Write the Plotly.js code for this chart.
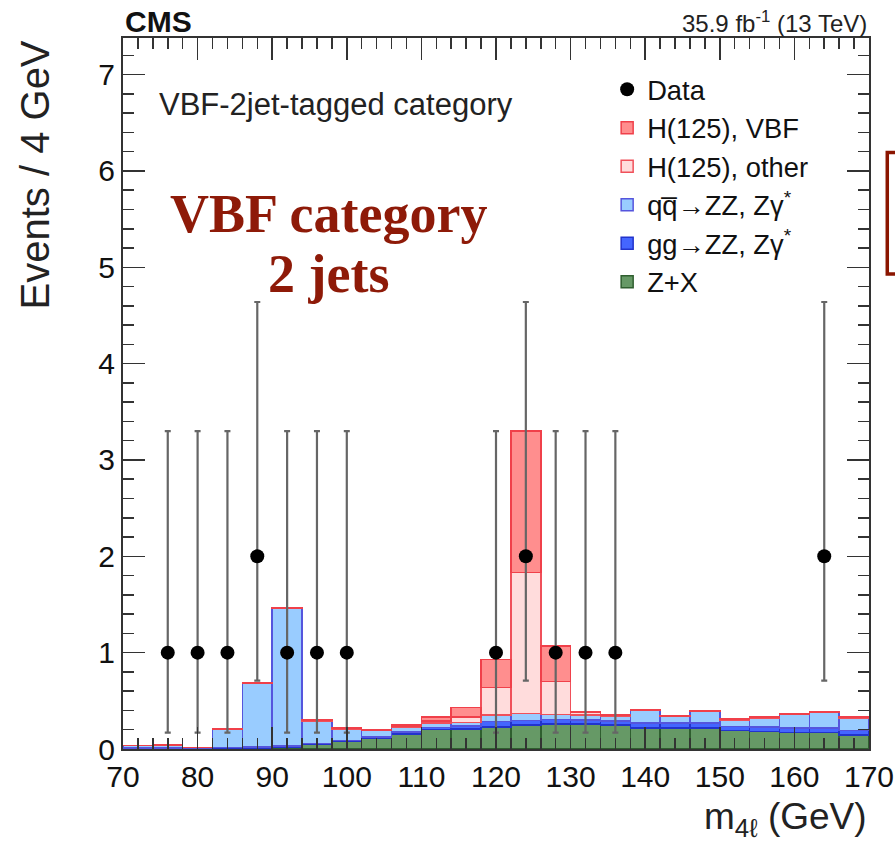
<!DOCTYPE html>
<html>
<head>
<meta charset="utf-8">
<script src="https://cdn.plot.ly/plotly-3.0.1.min.js"></script>
<style>html,body{margin:0;padding:0;background:#fff;}#chart{width:895px;height:847px;}</style>
</head>
<body>
<div id="chart"></div>
<script>
// Bin centres (4 GeV bins from 70 to 170)
var binCenters = [72,76,80,84,88,92,96,100,104,108,112,116,120,124,128,132,136,140,144,148,152,156,160,164,168];
// Stacked components (events / 4 GeV)
var zPlusX  = [0,0,0,0.005,0.01,0.02,0.045,0.08,0.11,0.155,0.20,0.21,0.23,0.25,0.26,0.26,0.25,0.22,0.22,0.22,0.19,0.18,0.17,0.17,0.145];
var ggZZ    = [0.01,0.01,0.005,0.01,0.01,0.01,0.01,0.01,0.015,0.02,0.025,0.03,0.055,0.045,0.045,0.04,0.04,0.05,0.05,0.05,0.045,0.05,0.05,0.05,0.045];
var qqZZ    = [0.025,0.03,0.01,0.19,0.665,1.43,0.235,0.12,0.065,0.055,0.045,0.035,0.07,0.075,0.055,0.055,0.05,0.13,0.07,0.12,0.065,0.09,0.14,0.16,0.13];
var hOther  = [0,0,0,0,0,0.005,0.005,0.005,0.005,0.01,0.02,0.055,0.285,1.46,0.34,0.025,0.01,0.005,0.005,0.005,0.005,0.005,0.005,0.005,0.005];
var hVBF    = [0,0,0,0.005,0.005,0.005,0.005,0.005,0.005,0.01,0.04,0.10,0.29,1.47,0.37,0.01,0.005,0.005,0.005,0.005,0.005,0.005,0.005,0.005,0.005];
// Data points with asymmetric Poisson errors
var dataX      = [76,80,84,88,92,96,100,120,124,128,132,136,164];
var dataY      = [1,1,1,2,1,1,1,1,2,1,1,1,2];
var dataErrUp  = [2.30,2.30,2.30,2.64,2.30,2.30,2.30,2.30,2.64,2.30,2.30,2.30,2.64];
var dataErrDn  = [0.83,0.83,0.83,1.29,0.83,0.83,0.83,0.83,1.29,0.83,0.83,0.83,1.29];

var FONT = 'Liberation Sans, Arial, Helvetica, sans-serif';
var SERIF = 'Liberation Serif, Times New Roman, serif';

function barTrace(name, y, fill, line) {
  return {
    type: 'bar', name: name, x: binCenters, y: y, width: 4,
    marker: {color: fill, line: {color: line, width: 1.5}},
    hoverinfo: 'skip'
  };
}

var traces = [
  barTrace('Z+X', zPlusX, '#669966', '#2f5f2f'),
  barTrace('gg\u2192ZZ, Z\u03b3<sup>*</sup>', ggZZ, '#4466ff', '#2233cc'),
  barTrace('qq\u0305\u2192ZZ, Z\u03b3<sup>*</sup>', qqZZ, '#99ccff', '#5555dd'),
  barTrace('H(125), other', hOther, '#ffdcdc', '#f0505a'),
  barTrace('H(125), VBF', hVBF, '#ff8e8e', '#f0404a'),
  {
    type: 'scatter', mode: 'markers', name: 'Data',
    x: dataX, y: dataY,
    marker: {color: '#000', size: 14, symbol: 'circle'},
    error_y: {type: 'data', symmetric: false, array: dataErrUp, arrayminus: dataErrDn,
              color: '#666', thickness: 2.2, width: 3},
    hoverinfo: 'skip'
  }
];

var layout = {
  width: 895, height: 847,
  margin: {l: 123, r: 26, t: 38, b: 98},
  paper_bgcolor: '#fff', plot_bgcolor: '#fff',
  barmode: 'stack', bargap: 0,
  font: {family: FONT, color: '#111', size: 30},
  showlegend: true,
  legend: {
    x: 0.649, y: 0.962, xanchor: 'left', yanchor: 'top',
    traceorder: 'reversed', bgcolor: 'rgba(0,0,0,0)',
    font: {family: FONT, size: 27.3, color: '#111'},
    tracegroupgap: 0
  },
  xaxis: {
    range: [70, 170], dtick: 10, tick0: 70,
    ticks: 'inside', ticklen: 22, tickwidth: 1.5, tickcolor: '#333',
    showline: true, linecolor: '#333', linewidth: 2, mirror: 'allticks',
    showgrid: false, zeroline: false,
    tickfont: {family: FONT, size: 30, color: '#111'},
    minor: {dtick: 2, ticks: 'inside', ticklen: 11, tickcolor: '#333', tickwidth: 1.5, showgrid: false}
  },
  yaxis: {
    range: [0, 7.38], dtick: 1, tick0: 0,
    ticks: 'inside', ticklen: 22, tickwidth: 1.5, tickcolor: '#333',
    showline: true, linecolor: '#333', linewidth: 2, mirror: 'allticks',
    showgrid: false, zeroline: false,
    tickfont: {family: FONT, size: 30, color: '#111'},
    minor: {dtick: 0.2, ticks: 'inside', ticklen: 11, tickcolor: '#333', tickwidth: 1.5, showgrid: false}
  },
  annotations: [
    {text: '<b>CMS</b>', xref: 'paper', yref: 'paper', x: 0, y: 1, xanchor: 'left', yanchor: 'bottom',
     showarrow: false, font: {family: FONT, size: 30, color: '#111'}, yshift: -2},
    {text: '35.9 fb<sup>-1</sup> (13 TeV)', xref: 'paper', yref: 'paper', x: 1, y: 1, xanchor: 'right', yanchor: 'bottom',
     showarrow: false, font: {family: FONT, size: 24, color: '#222'}, yshift: -1},
    {text: 'VBF-2jet-tagged category', xref: 'x', yref: 'y', x: 74.6, y: 6.69, xanchor: 'left', yanchor: 'middle',
     showarrow: false, font: {family: FONT, size: 31, color: '#222'}},
    {text: '<b>VBF category</b>', xref: 'x', yref: 'y', x: 97.5, y: 5.55, xanchor: 'center', yanchor: 'middle',
     showarrow: false, font: {family: SERIF, size: 54, color: '#8e1a08'}},
    {text: '<b>2 jets</b>', xref: 'x', yref: 'y', x: 97.5, y: 4.93, xanchor: 'center', yanchor: 'middle',
     showarrow: false, font: {family: SERIF, size: 54, color: '#8e1a08'}},
    {text: 'Events / 4 GeV', xref: 'paper', yref: 'paper', x: -0.118, y: 1, xanchor: 'center', yanchor: 'top',
     textangle: -90, showarrow: false, font: {family: FONT, size: 40, color: '#222'}},
    {text: 'm<sub>4\u2113</sub> (GeV)', xref: 'paper', yref: 'paper', x: 1, y: -0.133, xanchor: 'right', yanchor: 'bottom',
     showarrow: false, font: {family: FONT, size: 37, color: '#222'}}
  ],
  shapes: [
    {type: 'rect', xref: 'paper', yref: 'paper', x0: 1.0245, x1: 1.06, y0: 0.668, y1: 0.839,
     line: {color: '#8b1500', width: 3.5}, fillcolor: 'rgba(0,0,0,0)', layer: 'above'}
  ]
};

Plotly.newPlot('chart', traces, layout, {displayModeBar: false, staticPlot: true});
</script>
</body>
</html>
